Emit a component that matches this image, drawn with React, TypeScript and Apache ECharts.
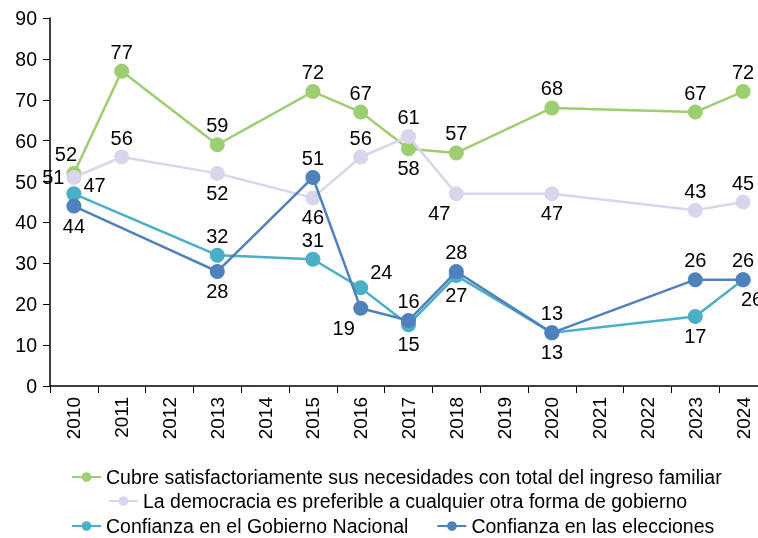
import React, { useEffect, useRef } from "react";
import * as echarts from "echarts";

const years = ["2010","2011","2012","2013","2014","2015","2016","2017","2018","2019","2020","2021","2022","2023","2024"];
const seriesNames = [
  "Cubre satisfactoriamente sus necesidades con total del ingreso familiar",
  "La democracia es preferible a cualquier otra forma de gobierno",
  "Confianza en el Gobierno Nacional",
  "Confianza en las elecciones",
];
const ingreso = [52, 77, null, 59, null, 72, 67, 58, 57, null, 68, null, null, 67, 72];
const democracia = [51, 56, null, 52, null, 46, 56, 61, 47, null, 47, null, null, 43, 45];
const gobierno = [47, null, null, 32, null, 31, 24, 15, 27, null, 13, null, null, 17, 26];
const elecciones = [44, null, null, 28, null, 51, 19, 16, 28, null, 13, null, null, 26, 26];

const colors = ["#9dcf72", "#d9d5ec", "#4bafc6", "#4f81bd"];

// label placement per point
const posIngreso = ["TL","T","","T","","T","T","B","T","","T","","","T","T"];
const posDemocracia = ["L","T","","B","","B","T","T","BL","","B","","","T","T"];
const posGobierno = ["RU","","","T","","T","TR","B","B","","B","","","B","BR"];
const posElecciones = ["B","","","B","","T","BL","T","T","","T","","","T","T"];

function labelFor(code: string) {
  switch (code) {
    case "T": return { position: "top" };
    case "B": return { position: "bottom" };
    case "L": return { position: "left" };
    case "R": return { position: "right" };
    case "RU": return { position: "right", offset: [0, -9] };
    case "TL": return { position: "top", offset: [-8, 0] };
    case "TR": return { position: "right", offset: [0, -16] };
    case "BL": return { position: "bottom", offset: [-17, 0] };
    case "BR": return { position: "bottom", offset: [9, 0] };
    default: return { show: false };
  }
}

function buildData(values: (number | null)[], pos: string[]) {
  return values.map((v, i) => (v === null ? "-" : { value: v, label: labelFor(pos[i]) }));
}

export default function App() {
  const ref = useRef<HTMLDivElement>(null);
  useEffect(() => {
    const chart = echarts.init(ref.current!, null, { renderer: "svg" });
    const font = "'Liberation Sans', Arial, sans-serif";
    const allValues = [ingreso, democracia, gobierno, elecciones];
    const allPos = [posIngreso, posDemocracia, posGobierno, posElecciones];
    chart.setOption({
      animation: false,
      textStyle: { fontFamily: font },
      grid: { left: 50, top: 18, height: 368, width: 717, containLabel: false, outerBoundsMode: "none" },
      legend: [
        { data: [seriesNames[0]], left: 71, top: 467 },
        { data: [seriesNames[1]], left: 108, top: 491 },
        { data: [seriesNames[2], seriesNames[3]], left: 71, top: 516, itemGap: 28 },
      ].map((l) => ({
        ...l,
        itemWidth: 29,
        itemHeight: 12,
        textStyle: { fontFamily: font, fontSize: 19.5, color: "#000" },
        padding: 0,
      })),
      xAxis: {
        type: "category",
        data: years,
        boundaryGap: true,
        axisLine: { lineStyle: { color: "#000", width: 1.5 } },
        axisTick: { show: true, length: 7, lineStyle: { color: "#000" } },
        axisLabel: { rotate: 90, fontSize: 19, color: "#000", fontFamily: font, margin: 11, interval: 0 },
      },
      yAxis: {
        type: "value",
        min: 0,
        max: 90,
        interval: 10,
        splitLine: { show: false },
        axisLine: { show: true, lineStyle: { color: "#000", width: 1.5 } },
        axisTick: { show: true, length: 7, lineStyle: { color: "#000" } },
        axisLabel: { fontSize: 19.5, color: "#000", fontFamily: font, margin: 13 },
      },
      series: allValues.map((vals, k) => ({
        name: seriesNames[k],
        type: "line",
        data: buildData(vals, allPos[k]),
        connectNulls: true,
        symbol: "circle",
        symbolSize: 15,
        color: colors[k],
        lineStyle: { width: 2.5, color: colors[k] },
        itemStyle: { color: colors[k] },
        label: { show: true, fontSize: 20, color: "#000", fontFamily: font, distance: 2 },
        z: 2 + k,
      })),
    });
    return () => chart.dispose();
  }, []);
  return <div ref={ref} style={{ position: "fixed", left: 0, top: 0, width: 758, height: 538 }} />;
}
